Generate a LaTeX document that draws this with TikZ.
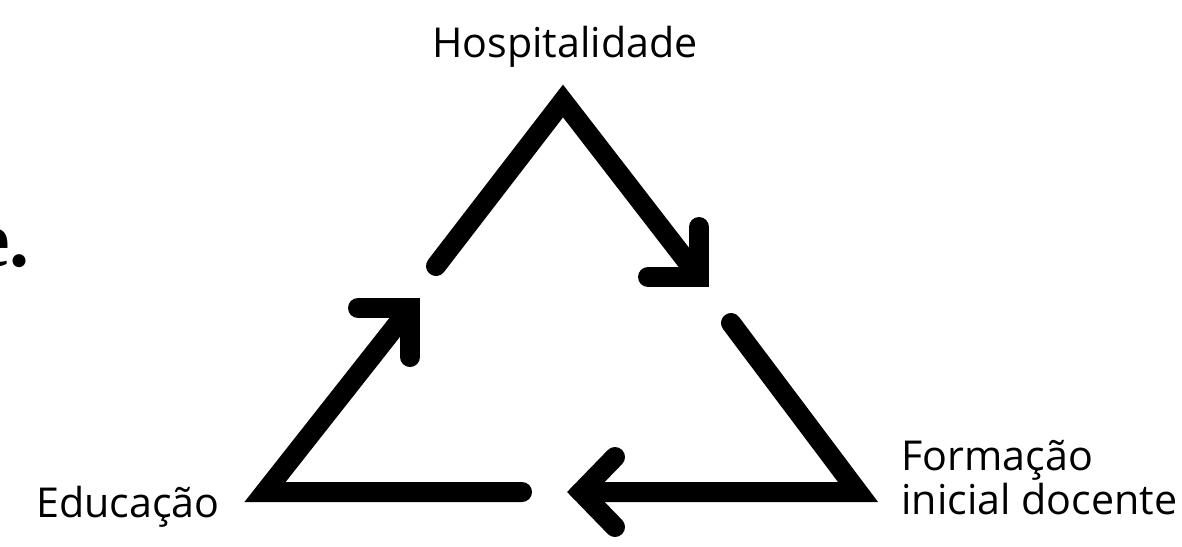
\documentclass[tikz,border=0pt]{standalone}
\usepackage{fontspec}
\setmainfont{Open Sans}
\newfontfamily\serifbig{Liberation Serif}
\begin{document}
\begin{tikzpicture}[x=0.5pt,y=-0.5pt,
  arrowline/.style={line width=10pt,line cap=round,line join=miter},
  lbl/.style={font=\fontsize{20.6}{18.5}\selectfont,inner sep=0pt}]
\useasboundingbox (0,0) rectangle (1182,546);
% vertices and ends
\coordinate (A) at (563,101);
\coordinate (BL) at (265,492);
\coordinate (BR) at (858,492);
\coordinate (T0) at (436,266);
\coordinate (T1) at (699,277);
\coordinate (TH1) at (648,277);
\coordinate (TH2) at (699,227);
\coordinate (L0) at (522,492);
\coordinate (L1) at (410,308);
\coordinate (LH1) at (358,308);
\coordinate (LH2) at (410,357);
\coordinate (R0) at (731,323);
\coordinate (R1) at (581,492);
\coordinate (RH1) at (615,457);
\coordinate (RH2) at (615,527);
% arrows
\draw[arrowline] (T0) -- (A) -- (T1);
\draw[arrowline] (TH1) -- (T1) -- (TH2);
\draw[arrowline] (L0) -- (BL) -- (L1);
\draw[arrowline] (LH1) -- (L1) -- (LH2);
\draw[arrowline] (R0) -- (BR) -- (R1);
\draw[arrowline] (RH1) -- (R1) -- (RH2);
% labels
\node[lbl,anchor=base] (hosp) at (565,57) {Hospitalidade};
\node[lbl,anchor=base west] (edu) at (36,517) {Educação};
\node[lbl,anchor=base west,align=left] (form) at (901,514) {Formação\\inicial docente};
\node[font=\serifbig\bfseries\fontsize{40}{40}\selectfont,anchor=base east,inner sep=0pt] (edot) at (30,266) {e.};
\end{tikzpicture}
\end{document}
